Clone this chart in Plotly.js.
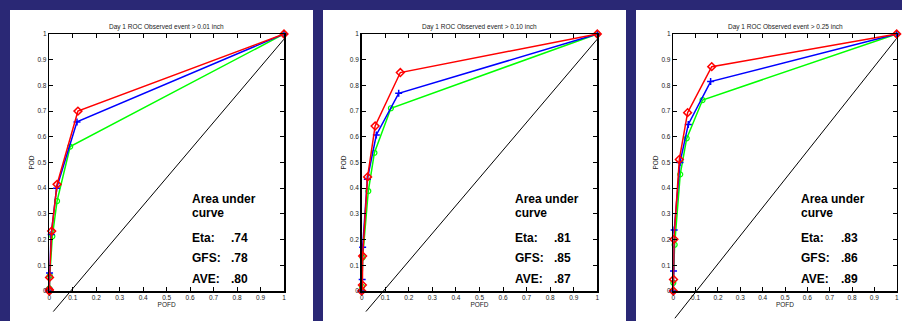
<!DOCTYPE html>
<html><head><meta charset="utf-8">
<script src="https://cdn.plot.ly/plotly-3.0.1.min.js"></script>
<style>html,body{margin:0;padding:0;background:#2a2875;}</style>
</head><body><div id="chart" style="width:902px;height:321px;"></div>
<script>
// ---------- data ----------
const thresholds = ["0.01", "0.10", "0.25"];
const tickVals = [0, 0.1, 0.2, 0.3, 0.4, 0.5, 0.6, 0.7, 0.8, 0.9, 1];
const tickText = ["0", "0.1", "0.2", "0.3", "0.4", "0.5", "0.6", "0.7", "0.8", "0.9", "1"];

// Panel 1 (> 0.01 inch)
const p1RedX   = [0, 0, 0.001, 0.010, 0.033, 0.122, 1];
const p1RedY   = [0, 0.005, 0.053, 0.233, 0.415, 0.700, 1];
const p1BlueX  = [0, 0, 0.001, 0.008, 0.031, 0.118, 1];
const p1BlueY  = [0, 0.010, 0.070, 0.220, 0.400, 0.658, 1];
const p1GreenX = [0, 0, 0.002, 0.013, 0.033, 0.089, 1];
const p1GreenY = [0, 0.010, 0.060, 0.213, 0.350, 0.562, 1];
const p1DiagX  = [0.017, 1];
const p1DiagY  = [-0.08, 0.98];

// Panel 2 (> 0.10 inch)
const p2RedX   = [0, 0.003, 0.004, 0.025, 0.057, 0.164, 1];
const p2RedY   = [0, 0.023, 0.136, 0.444, 0.642, 0.850, 1];
const p2BlueX  = [0, 0.002, 0.004, 0.024, 0.062, 0.157, 1];
const p2BlueY  = [0, 0.045, 0.170, 0.435, 0.607, 0.769, 1];
const p2GreenX = [0, 0.001, 0.004, 0.028, 0.054, 0.124, 1];
const p2GreenY = [0, 0.017, 0.130, 0.389, 0.538, 0.711, 1];
const p2DiagX  = [0.018, 1];
const p2DiagY  = [-0.08, 0.98];

// Panel 3 (> 0.25 inch)
const p3RedX   = [0, 0.001, 0.003, 0.027, 0.064, 0.172, 1];
const p3RedY   = [0, 0.045, 0.201, 0.512, 0.694, 0.873, 1];
const p3BlueX  = [0, 0.001, 0.004, 0.030, 0.067, 0.167, 1];
const p3BlueY  = [0, 0.078, 0.237, 0.500, 0.648, 0.815, 1];
const p3GreenX = [0, 0.000, 0.006, 0.031, 0.060, 0.131, 1];
const p3GreenY = [0, 0.032, 0.180, 0.454, 0.594, 0.743, 1];
const p3DiagX  = [0.007, 1];
const p3DiagY  = [-0.106, 0.983];

// Area under curve
const etaArea = [".74", ".81", ".83"];
const gfsArea = [".78", ".85", ".86"];
const aveArea = [".80", ".87", ".89"];

// ---------- layout helpers ----------
const W = 902, H = 321;
const panelBox = [[10, 313], [323, 626], [636, 902]];        // white panels (px)
const plotX = [[49.3, 284], [361.7, 597.3], [673.3, 896.7]]; // axes boxes (px)
const plotTop = 34, plotBottom = 291;
const labelX = [0.60, 0.641, 0.564];
const valueX = [0.765, 0.808, 0.743];
const rowY = [0.358, 0.304, 0.206, 0.128, 0.047];

const series = [
  {red:[p1RedX,p1RedY], blue:[p1BlueX,p1BlueY], green:[p1GreenX,p1GreenY], diag:[p1DiagX,p1DiagY]},
  {red:[p2RedX,p2RedY], blue:[p2BlueX,p2BlueY], green:[p2GreenX,p2GreenY], diag:[p2DiagX,p2DiagY]},
  {red:[p3RedX,p3RedY], blue:[p3BlueX,p3BlueY], green:[p3GreenX,p3GreenY], diag:[p3DiagX,p3DiagY]}
];

const narrow = '"Liberation Sans Narrow", "Liberation Sans", Arial, sans-serif';
const bold = '"Liberation Sans", Arial, Helvetica, sans-serif';

const yDom = [1 - plotBottom / H, 1 - plotTop / H];
const extBottom = 0;
const extSpan = (yDom[1] - extBottom) / (yDom[1] - yDom[0]);

const traces = [];
const layout = {
  width: W, height: H,
  margin: {l: 0, r: 0, t: 0, b: 0},
  paper_bgcolor: '#2a2875',
  plot_bgcolor: 'rgba(0,0,0,0)',
  showlegend: false,
  shapes: [], annotations: []
};

series.forEach((s, i) => {
  const n = i + 1;
  const xa = 'x' + (n === 1 ? '' : n), ya = 'y' + (n === 1 ? '' : n);
  const yExt = 'y' + (n + 3);
  const xd = [plotX[i][0] / W, plotX[i][1] / W];

  layout['xaxis' + (n === 1 ? '' : n)] = {
    domain: xd, range: [0, 1], anchor: ya,
    showline: true, mirror: 'ticks', linecolor: '#000', linewidth: 1.5,
    ticks: 'inside', ticklen: 4, tickwidth: 1, tickcolor: '#000',
    tickmode: 'array', tickvals: tickVals, ticktext: tickText,
    tickfont: {family: narrow, size: 6.5, color: '#222'},
    showgrid: false, zeroline: false, fixedrange: true,
    title: {text: 'POFD', font: {family: narrow, size: 6.5, color: '#222'}, standoff: 2}
  };
  layout['yaxis' + (n === 1 ? '' : n)] = {
    domain: yDom, range: [0, 1], anchor: xa,
    showline: true, mirror: 'ticks', linecolor: '#000', linewidth: 1.5,
    ticks: 'inside', ticklen: 4, tickwidth: 1, tickcolor: '#000',
    tickmode: 'array', tickvals: tickVals, ticktext: tickText,
    tickfont: {family: narrow, size: 6.5, color: '#222'},
    showgrid: false, zeroline: false, fixedrange: true,
    title: {text: 'POD', font: {family: narrow, size: 6.5, color: '#222'}, standoff: 2}
  };
  // invisible extended y axis (same scale) so the diagonal can run below the frame
  layout['yaxis' + (n + 3)] = {
    domain: [extBottom, yDom[1]], range: [1 - extSpan, 1], anchor: xa,
    visible: false, fixedrange: true
  };

  layout.shapes.push({
    type: 'rect', xref: 'paper', yref: 'paper', layer: 'below',
    x0: panelBox[i][0] / W, x1: panelBox[i][1] / W, y0: 0, y1: 1 - 10 / H,
    fillcolor: '#ffffff', line: {width: 0}
  });

  traces.push({x: s.diag[0], y: s.diag[1], xaxis: xa, yaxis: yExt, mode: 'lines',
    line: {color: '#000', width: 1}, hoverinfo: 'skip'});
  traces.push({x: s.green[0], y: s.green[1], xaxis: xa, yaxis: ya, mode: 'lines+markers',
    cliponaxis: false, line: {color: '#00ff00', width: 1.5},
    marker: {symbol: 'circle-open', size: 5, color: '#00ff00', line: {width: 1.2, color: '#00ff00'}}});
  traces.push({x: s.blue[0], y: s.blue[1], xaxis: xa, yaxis: ya, mode: 'lines+markers',
    cliponaxis: false, line: {color: '#0000ff', width: 1.5},
    marker: {symbol: 'cross-thin-open', size: 5, color: '#0000ff', line: {width: 1.5, color: '#0000ff'}}});
  traces.push({x: s.red[0], y: s.red[1], xaxis: xa, yaxis: ya, mode: 'lines+markers',
    cliponaxis: false, line: {color: '#ff0000', width: 1.5},
    marker: {symbol: 'diamond-open', size: 6, color: '#ff0000', line: {width: 1.5, color: '#ff0000'}}});

  // panel title
  layout.annotations.push({
    xref: 'paper', yref: 'paper', x: (xd[0] + xd[1]) / 2, y: 1 - 27 / H,
    xanchor: 'center', yanchor: 'middle', showarrow: false,
    text: 'Day 1 ROC Observed event > ' + thresholds[i] + ' inch',
    font: {family: narrow, size: 6.5, color: '#222'}
  });
  // area-under-curve text
  const xdom = xa + ' domain', ydom = ya + ' domain';
  const rows = [['Area under', null], ['curve', null], ['Eta:', etaArea[i]], ['GFS:', gfsArea[i]], ['AVE:', aveArea[i]]];
  rows.forEach((r, k) => {
    layout.annotations.push({xref: xdom, yref: ydom, x: labelX[i], y: rowY[k],
      xanchor: 'left', yanchor: 'middle', showarrow: false, text: '<b>' + r[0] + '</b>',
      font: {family: bold, size: 12, color: '#000'}});
    if (r[1]) layout.annotations.push({xref: xdom, yref: ydom, x: valueX[i], y: rowY[k],
      xanchor: 'left', yanchor: 'middle', showarrow: false, text: '<b>' + r[1] + '</b>',
      font: {family: bold, size: 12, color: '#000'}});
  });
});

Plotly.newPlot('chart', traces, layout, {staticPlot: true, displayModeBar: false});
</script></body></html>
